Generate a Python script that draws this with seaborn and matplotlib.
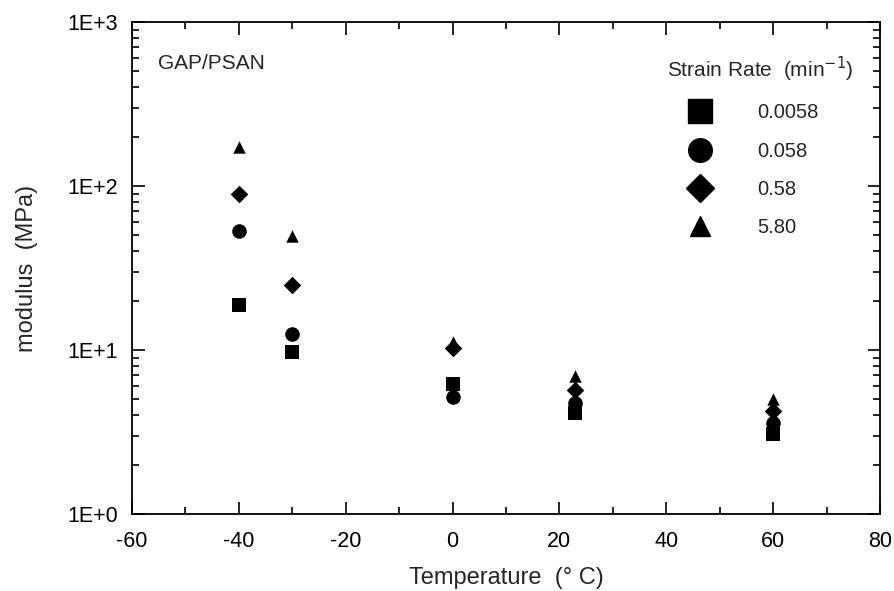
import matplotlib
matplotlib.use("Agg")
import matplotlib.pyplot as plt
import seaborn as sns
import pandas as pd
import numpy as np
from matplotlib.lines import Line2D
from matplotlib.ticker import FixedLocator, FuncFormatter, LogLocator, NullFormatter, MultipleLocator

temps = [-40, -30, 0, 23, 60]
rates = ["0.0058", "0.058", "0.58", "5.80"]
mod_0058 = [18.8, 9.7, 6.2, 4.13, 3.08]
mod_058 = [53, 12.5, 5.2, 4.75, 3.59]
mod_58 = [89, 25, 10.3, 5.7, 4.25]
mod_580 = [173, 49.6, 11.2, 6.9, 5.0]

series = {"0.0058": mod_0058, "0.058": mod_058, "0.58": mod_58, "5.80": mod_580}
rows = []
for r in rates:
    for t, m in zip(temps, series[r]):
        rows.append({"T": t, "modulus": m, "rate": r})
df = pd.DataFrame(rows)

sns.set_style("ticks")
plt.rcParams['font.family'] = ['Liberation Sans', 'DejaVu Sans']
plt.rcParams['axes.unicode_minus'] = False

fig = plt.figure(figsize=(8.94, 5.91), dpi=100)
ax = fig.add_axes([132/894, 1-514/591, (880-132)/894, (514-22)/591])

markers = {"0.0058": "s", "0.058": "o", "0.58": "D", "5.80": "^"}
sizes = {"0.0058": 110, "0.058": 110, "0.58": 80, "5.80": 80}
for r in rates:
    sub = df[df.rate == r]
    sns.scatterplot(data=sub, x="T", y="modulus", marker=markers[r], s=sizes[r],
                    color="black", edgecolor="black", linewidth=0, ax=ax, legend=False, zorder=3)

ax.set_yscale("log")
ax.set_xlim(-60, 80)
ax.set_ylim(1, 1000)
ax.xaxis.set_major_locator(MultipleLocator(20))
ax.xaxis.set_minor_locator(MultipleLocator(10))
ax.yaxis.set_major_locator(FixedLocator([1, 10, 100, 1000]))
ax.yaxis.set_minor_locator(LogLocator(base=10, subs=np.arange(2, 10)))
ax.yaxis.set_minor_formatter(NullFormatter())
ax.yaxis.set_major_formatter(FuncFormatter(lambda v, p: "1E+%d" % int(round(np.log10(v)))))
ax.tick_params(which="both", direction="in", top=True, right=True, labelsize=15.5, colors="black", width=1.2)
ax.tick_params(which="major", length=9)
ax.tick_params(axis="x", which="major", pad=12)
ax.tick_params(axis="y", which="major", pad=10)
ax.tick_params(which="minor", length=5)
for s in ax.spines.values():
    s.set_linewidth(1.3)
    s.set_color("black")

ax.set_xlabel("Temperature  (° C)", fontsize=17, labelpad=11)
ax.set_ylabel("modulus  (MPa)", fontsize=17, labelpad=21)

ax.text(-55.2, 560, "GAP/PSAN", fontsize=15, va="center", ha="left")

handles = [Line2D([], [], linestyle="none", marker=markers[r], color="black",
                  markersize={"s": 17, "o": 17, "D": 14, "^": 15}[markers[r]]) for r in rates]
leg = ax.legend(handles, rates, loc="upper right", bbox_to_anchor=(0.976, 0.949), frameon=False,
                fontsize=14.5, title="Strain Rate  (min$^{-1}$)", title_fontsize=15,
                handlelength=3.2, handletextpad=1.24, labelspacing=0.95, borderaxespad=0)
leg._legend_box.align = "left"

fig.savefig("out.png", dpi=100)
